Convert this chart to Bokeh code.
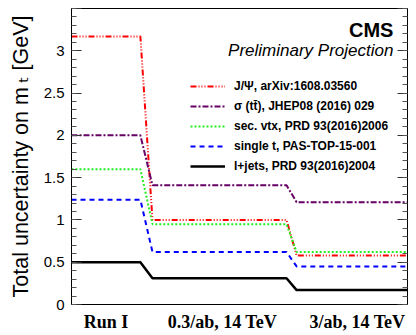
from bokeh.plotting import figure
from bokeh.models import (Range1d, LinearAxis, FixedTicker, SingleIntervalTicker,
                          Legend, LegendItem, Label, CustomJSTickFormatter)
from bokeh.embed import file_html
from bokeh.resources import INLINE

# ---- data -------------------------------------------------------------
stages = ["Run I", "0.3/ab, 14 TeV", "3/ab, 14 TeV"]
stage_label_x = [1.03, 4.49, 8.51]
# x positions: start, end of Run I plateau, start of 2nd plateau, end of 2nd, start of 3rd, end
step_x = [0.0, 2.05, 2.41, 6.40, 6.70, 10.0]

series_labels = [
    "J/\u03a8, arXiv:1608.03560",
    "\u03c3 (tt\u0304), JHEP08 (2016) 029",
    "sec. vtx, PRD 93(2016)2006",
    "single t, PAS-TOP-15-001",
    "l+jets, PRD 93(2016)2004",
]
jpsi = [3.17, 1.00, 0.58]
xsec = [2.00, 1.41, 1.21]
secvtx = [1.60, 0.95, 0.62]
singlet = [1.24, 0.62, 0.45]
ljets = [0.50, 0.31, 0.17]

series_values = [jpsi, xsec, secvtx, singlet, ljets]
series_colors = ["#ff0000", "#660066", "#22ee22", "#0000ff", "#000000"]
series_dash = ["6 2 1 2 1 2 1 2", "6 2 2 2", "2 2", "5 4", "solid"]
series_width = [2, 2, 2, 2, 2.5]

# ---- figure -----------------------------------------------------------
p = figure(width=415, height=334,
           x_range=Range1d(0, 10), y_range=Range1d(0, 3.5),
           output_backend="svg", toolbar_location=None,
           min_border_left=71, min_border_right=8,
           min_border_top=8, min_border_bottom=30)
p.grid.visible = False
p.outline_line_color = "black"
p.outline_line_width = 1
p.background_fill_color = "white"
p.border_fill_color = "white"

# y axis (left)
yax = p.yaxis[0]
yax.ticker = SingleIntervalTicker(interval=0.5, num_minor_ticks=5)
yax.major_tick_in = 10
yax.major_tick_out = 0
yax.minor_tick_in = 5
yax.minor_tick_out = 0
yax.major_tick_line_color = "#333333"
yax.minor_tick_line_color = "#555555"
yax.axis_line_color = "black"
yax.major_label_text_font = "Liberation Sans"
yax.major_label_text_font_size = "15px"
yax.major_label_text_color = "black"
yax.major_label_standoff = 7
yax.major_label_overrides = {0: "0", 1: "1", 2: "2", 3: "3", 3.5: ""}
yax.axis_label = "Total uncertainty on m\u2009\u209c [GeV]"
yax.axis_label_text_font = "Liberation Sans, DejaVu Sans"
yax.axis_label_text_font_style = "normal"
yax.axis_label_text_font_size = "21.5px"
yax.axis_label_text_color = "black"
yax.axis_label_standoff = 8

# right axis with ticks only
rax = LinearAxis(ticker=SingleIntervalTicker(interval=0.5, num_minor_ticks=5),
                 formatter=CustomJSTickFormatter(code="return ''"))
rax.major_tick_in = 10
rax.major_tick_out = 0
rax.minor_tick_in = 5
rax.minor_tick_out = 0
rax.major_tick_line_color = "#333333"
rax.minor_tick_line_color = "#555555"
rax.major_label_text_font_size = "1px"
rax.major_label_standoff = 0
rax.axis_line_color = "black"
p.add_layout(rax, "right")

# x axis
xax = p.xaxis[0]
xax.ticker = FixedTicker(ticks=stage_label_x)
xax.major_label_overrides = {x: s for x, s in zip(stage_label_x, stages)}
xax.major_tick_in = 0
xax.major_tick_out = 0
xax.minor_tick_in = 0
xax.minor_tick_out = 0
xax.axis_line_color = "black"
xax.major_label_text_font = "Liberation Serif"
xax.major_label_text_font_style = "bold"
xax.major_label_text_font_size = "18px"
xax.major_label_text_color = "black"
xax.major_label_standoff = 7

# ---- lines ------------------------------------------------------------
items = []
for lab, vals, col, dash, w in zip(series_labels, series_values, series_colors,
                                   series_dash, series_width):
    ys = [vals[0], vals[0], vals[1], vals[1], vals[2], vals[2]]
    r = p.line(step_x, ys, line_color=col, line_width=w, line_dash=dash)
    items.append(LegendItem(label=lab, renderers=[r]))

legend = Legend(items=items, location=(119, 128),
                glyph_width=35, glyph_height=20, label_height=20,
                spacing=0, padding=0, margin=0, label_standoff=9,
                border_line_color=None, background_fill_alpha=0,
                label_text_font="Liberation Sans", label_text_font_style="bold",
                label_text_font_size="12px", label_text_color="black")
p.add_layout(legend)

# ---- texts ------------------------------------------------------------
p.add_layout(Label(x=9.58, y=3.25, text="CMS", text_align="right",
                   text_baseline="middle", text_font="Liberation Sans",
                   text_font_style="bold", text_font_size="20px",
                   text_color="black"))
p.add_layout(Label(x=9.58, y=3.0, text="Preliminary Projection", text_align="right",
                   text_baseline="middle", text_font="Liberation Sans",
                   text_font_style="italic", text_font_size="17px",
                   text_color="black"))

open("out.html", "w").write(file_html(p, INLINE))
